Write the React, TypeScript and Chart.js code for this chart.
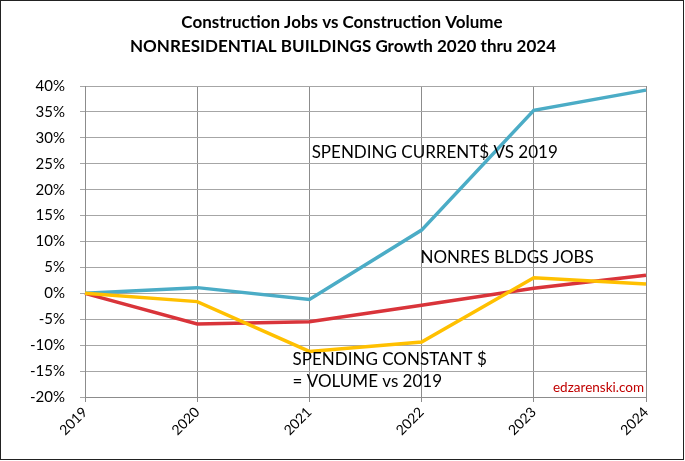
import React, { useEffect, useRef } from "react";
import { Chart, registerables } from "chart.js";

Chart.register(...registerables);

const years = ["2019", "2020", "2021", "2022", "2023", "2024"];
const spendingCurrent = [0, 1.1, -1.2, 12.2, 35.3, 39.2];
const nonresJobs = [0, -5.9, -5.5, -2.3, 1.0, 3.5];
const spendingConstant = [0, -1.6, -11.2, -9.4, 3.0, 1.8];
const yTicksMin = -20;
const yTicksMax = 40;
const titleLines = ["Construction Jobs vs Construction Volume", "NONRESIDENTIAL BUILDINGS Growth 2020 thru 2024"];

const FONT = "Lato, 'Open Sans', sans-serif";

const decorPlugin = {
  id: "decor",
  afterDraw(chart: any) {
    const ctx = chart.ctx;
    const x = chart.scales.x;
    const y = chart.scales.y;
    ctx.save();
    // title
    ctx.fillStyle = "#000";
    ctx.textAlign = "center";
    ctx.textBaseline = "middle";
    ctx.font = `bold 17px ${FONT}`;
    ctx.fillText(titleLines[0], 342, 23);
    ctx.fillText(titleLines[1], 343, 47);
    // annotations
    ctx.font = `17px ${FONT}`;
    ctx.textAlign = "left";
    ctx.fillText("SPENDING CURRENT$ VS 2019", x.getPixelForValue(2.02), y.getPixelForValue(27.1));
    ctx.fillText("NONRES BLDGS JOBS", x.getPixelForValue(2.99), y.getPixelForValue(7.0));
    ctx.fillText("SPENDING CONSTANT $", x.getPixelForValue(1.85), y.getPixelForValue(-12.7));
    ctx.fillText("= VOLUME vs 2019", x.getPixelForValue(1.85), y.getPixelForValue(-17.1));
    ctx.fillStyle = "#c00000";
    ctx.font = `13.5px ${FONT}`;
    ctx.textAlign = "right";
    ctx.fillText("edzarenski.com", x.getPixelForValue(5) - 2, y.getPixelForValue(-18.2));
    // border
    ctx.strokeStyle = "#222";
    ctx.lineWidth = 1;
    ctx.strokeRect(0.5, 0.5, 683, 459);
    ctx.restore();
  },
};

export default function App() {
  const ref = useRef<HTMLCanvasElement>(null);
  useEffect(() => {
    const chart = new Chart(ref.current as HTMLCanvasElement, {
      type: "line",
      data: {
        labels: years,
        datasets: [
          { label: "SPENDING CURRENT$ VS 2019", data: spendingCurrent, borderColor: "#4BACC6", borderWidth: 3.5, pointRadius: 0, tension: 0, order: 1 },
          { label: "NONRES BLDGS JOBS", data: nonresJobs, borderColor: "#D9343A", borderWidth: 3.5, pointRadius: 0, tension: 0, order: 2 },
          { label: "SPENDING CONSTANT $ = VOLUME vs 2019", data: spendingConstant, borderColor: "#FFC000", borderWidth: 3.5, pointRadius: 0, tension: 0, order: 0 },
        ],
      },
      options: {
        animation: false,
        responsive: false,
        layout: { padding: { top: 86, right: 39, left: 0, bottom: 0 } },
        plugins: { legend: { display: false }, title: { display: false }, tooltip: { enabled: false } },
        scales: {
          x: {
            offset: false,
            grid: { color: "#8c8c8c", tickLength: 5, drawTicks: true },
            border: { color: "#8c8c8c" },
            ticks: { color: "#000", font: { family: FONT, size: 14 }, minRotation: 45, maxRotation: 45, padding: 2 },
            afterFit: (s: any) => { s.height = 64; },
          },
          y: {
            min: yTicksMin,
            max: yTicksMax,
            grid: { color: "#a6a6a6", tickLength: 5 },
            border: { color: "#8c8c8c" },
            ticks: { stepSize: 5, color: "#000", font: { family: FONT, size: 15 }, padding: 15, callback: (v: any) => v + "%" },
            afterFit: (s: any) => { s.width = 85; },
          },
        },
      },
      plugins: [decorPlugin],
    });
    return () => chart.destroy();
  }, []);
  return (
    <div style={{ position: "absolute", left: 0, top: 0, width: 685, height: 461, background: "#fff" }}>
      <canvas ref={ref} width={685} height={461} />
    </div>
  );
}
